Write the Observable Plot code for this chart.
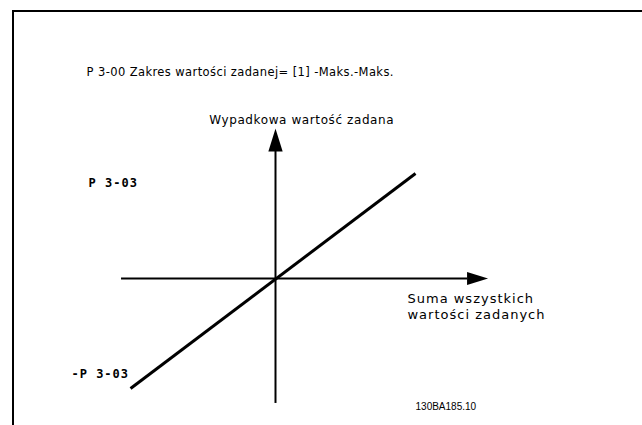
<!DOCTYPE html>
<html>
<head>
<meta charset="utf-8">
<script src="https://cdn.jsdelivr.net/npm/d3@7"></script>
<script src="https://cdn.jsdelivr.net/npm/@observablehq/plot@0.6"></script>
<style>
  html, body { margin: 0; padding: 0; background: #fff; }
  #wrap { position: relative; width: 642px; height: 425px; overflow: hidden; }
  #frame { position: absolute; left: 12px; top: 10px; right: 0; bottom: 0;
           border-top: 2px solid #000; border-left: 2px solid #000; pointer-events: none; }
</style>
</head>
<body>
<div id="wrap"><div id="frame"></div></div>
<script>
// ---- data (conceptual units: origin of the diagram at 0,0) ----
const titleText = "P 3-00 Zakres wartości zadanej= [1] -Maks.-Maks.";
const yAxisTitle = "Wypadkowa wartość zadana";
const xAxisTitle = "Suma wszystkich\nwartości zadanych";
const levelLabels = ["P 3-03", "-P 3-03"];
const docCode = "130BA185.10";

// transfer characteristic: input sum -> resulting reference
const inputX = [-1.028, 0.993];
const outputY = [-1.048, 1.0];

// axis extents
const xAxisRange = [-1.092, 1.362];
const yAxisRange = [-1.19, 1.21];
const xArrow = {x: 1.433, y: 0};
const yArrow = {x: 0, y: 1.319};

// annotation anchors
const titlePos = {x: -1.340, y: 1.924};
const yTitlePos = {x: -0.47, y: 1.476};
const levelPos = [{x: -1.326, y: 0.876}, {x: -1.447, y: -0.943}];
const xTitlePos = {x: 0.936, y: -0.381};
const codePos = {x: 0.993, y: -1.252};

const curve = inputX.map((x, i) => ({x, y: outputY[i]}));

const arrowHead = {
  draw(context, size) {
    const r = Math.sqrt(size / Math.PI);
    context.moveTo(0, -r);
    context.lineTo(r * 0.62, r);
    context.lineTo(-r * 0.62, r);
    context.closePath();
  }
};

const mainFont = "DejaVu Sans, Verdana, sans-serif";
const monoFont = "DejaVu Sans Mono, monospace";

const chart = Plot.plot({
  width: 642,
  height: 425,
  margin: 0,
  x: {domain: [-275 / 141, 367 / 141], axis: null},
  y: {domain: [-147 / 105, 278 / 105], axis: null},
  style: {background: "transparent", overflow: "visible"},
  marks: [
    Plot.ruleY([0], {x1: xAxisRange[0], x2: xAxisRange[1], stroke: "#000", strokeWidth: 2}),
    Plot.ruleX([0], {y1: yAxisRange[0], y2: yAxisRange[1], stroke: "#000", strokeWidth: 2}),
    Plot.dot([xArrow], {x: "x", y: "y", symbol: arrowHead, r: 10.5, rotate: 90, fill: "#000", stroke: "none"}),
    Plot.dot([yArrow], {x: "x", y: "y", symbol: arrowHead, r: 11.5, fill: "#000", stroke: "none"}),
    Plot.line(curve, {x: "x", y: "y", stroke: "#000", strokeWidth: 3, strokeLinecap: "butt"}),
    Plot.text([titlePos], {x: "x", y: "y", text: () => titleText, textAnchor: "start", lineAnchor: "bottom",
      fontFamily: mainFont, fontSize: 11.5, fill: "#000", ariaDescription: "title"}),
    Plot.text([yTitlePos], {x: "x", y: "y", text: () => yAxisTitle, textAnchor: "start", lineAnchor: "bottom",
      fontFamily: mainFont, fontSize: 12, fill: "#000", ariaDescription: "ytitle"}),
    Plot.text([xTitlePos], {x: "x", y: "y", text: () => xAxisTitle, textAnchor: "start", lineAnchor: "bottom",
      lineHeight: 1.23, fontFamily: mainFont, fontSize: 13, fill: "#000", ariaDescription: "xtitle"}),
    Plot.text(levelPos, {x: "x", y: "y", text: (d, i) => levelLabels[i], textAnchor: "start", lineAnchor: "bottom",
      fontFamily: monoFont, fontSize: 12, fontWeight: 600, fill: "#000", ariaDescription: "mono"}),
    Plot.text([codePos], {x: "x", y: "y", text: () => docCode, textAnchor: "start", lineAnchor: "bottom",
      fontFamily: "Liberation Sans, Arial, sans-serif", fontSize: 10, fill: "#000"})
  ]
});

d3.select(chart).selectAll('g[aria-description="title"]').attr("letter-spacing", "0.4px");
d3.select(chart).selectAll('g[aria-description="ytitle"]').attr("letter-spacing", "0.6px");
d3.select(chart).selectAll('g[aria-description="xtitle"]').attr("letter-spacing", "1px");
d3.select(chart).selectAll('g[aria-description="mono"]').attr("letter-spacing", "1px");

document.getElementById("wrap").insertBefore(chart, document.getElementById("frame"));
</script>
</body>
</html>
